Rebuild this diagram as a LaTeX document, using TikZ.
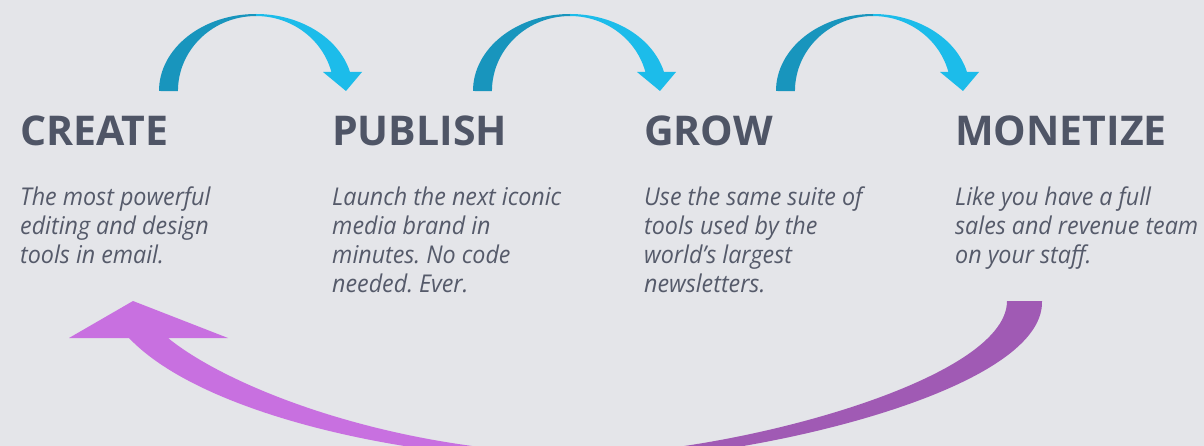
\documentclass[tikz,border=0pt]{standalone}
\usepackage{fontspec}
\setmainfont{Open Sans}
\newfontfamily\headfont{Open Sans}
\newfontfamily\descfont[FakeStretch=0.95]{Open Sans}
\frenchspacing
\definecolor{bgc}{HTML}{E4E5E9}
\definecolor{headc}{HTML}{4F5566}
\definecolor{descc}{HTML}{555A6A}
\definecolor{bluedark}{HTML}{1895BD}
\definecolor{bluelight}{HTML}{1CBCEA}
\definecolor{pinkc}{HTML}{C870E0}
\definecolor{purplec}{HTML}{A05AB4}
\def\bluepath{(0,91) arc[start angle=180,end angle=345.7,x radius=97,y radius=77] -- (203,72) -- (187,91) -- (164,72) -- (172.4,72) arc[start angle=345.3,end angle=180,x radius=78,y radius=75] -- cycle}
\def\purplepath{(129,338) .. controls (199,412) and (400,461) .. (590,461) .. controls (745,461) and (1045,392) .. (1042,301) -- (1007,301) .. controls (1007,382) and (725,454) .. (590,454) .. controls (400,454) and (232,390) .. (168,338) -- (228,338) -- (133,301) -- (69,338) -- cycle}
\newcommand{\myBlueArrow}[1]{%
  \begin{scope}[shift={(#1,0)}]
    \begin{scope}\clip (-5,0) rectangle (97,100); \fill[bluedark] \bluepath; \end{scope}
    \begin{scope}\clip (97,0) rectangle (220,100); \fill[bluelight] \bluepath; \end{scope}
  \end{scope}}
\newcommand{\mylines}[1]{\vtop{\frenchspacing#1}}
\tikzset{
  head/.style={font=\headfont\bfseries\fontsize{41}{48}\selectfont, text=headc, inner sep=0pt, anchor=base west},
  desc/.style={font=\descfont\itshape\fontsize{24.5}{29}\selectfont, text=descc, inner sep=0pt, anchor=base west}
}
\begin{document}
\begin{tikzpicture}[x=1pt,y=-1pt]
\useasboundingbox (0,0) rectangle (1204,446);
\fill[bgc] (0,0) rectangle (1204,446);
\myBlueArrow{159}
\myBlueArrow{473}
\myBlueArrow{776}
\begin{scope}\clip (0,0) rectangle (600,446); \fill[pinkc] \purplepath; \end{scope}
\begin{scope}\clip (600,0) rectangle (1204,446); \fill[purplec] \purplepath; \end{scope}
\node[head] (create) at (20,146) {CREATE};
\node[head] (publish) at (332,146) {PUBLISH};
\node[head] (grow) at (644,146) {GROW};
\node[head] (monetize) at (955,146) {MONETIZE};
\node[desc] (createtext) at (20,206) {\mylines{\hbox{The most powerful}\hbox{editing and design}\hbox{tools in email.}}};
\node[desc] (publishtext) at (332,206) {\mylines{\hbox{Launch the next iconic}\hbox{media brand in}\hbox{minutes. No code}\hbox{needed. Ever.}}};
\node[desc] (growtext) at (644,206) {\mylines{\hbox{Use the same suite of}\hbox{tools used by the}\hbox{world’s largest}\hbox{newsletters.}}};
\node[desc] (monetizetext) at (955,206) {\mylines{\hbox{Like you have a full}\hbox{sales and revenue team}\hbox{on your staff.}}};
\end{tikzpicture}
\end{document}
